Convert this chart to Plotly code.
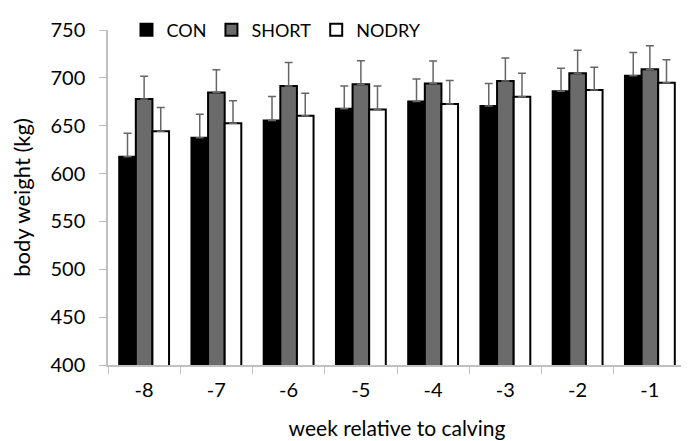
import plotly.graph_objects as go

weeks = ["-8", "-7", "-6", "-5", "-4", "-3", "-2", "-1"]
con = [617.5, 637.5, 655.5, 667.8, 675.4, 670.7, 686.0, 702.3]
con_se = [24.5, 24.5, 25.0, 23.6, 23.5, 23.5, 24.1, 24.2]
short = [677.9, 684.6, 691.4, 693.3, 694.0, 696.8, 704.7, 709.1]
short_se = [23.7, 23.9, 24.6, 24.5, 23.7, 24.0, 24.2, 24.5]
nodry = [644.2, 652.6, 660.4, 666.9, 672.7, 680.2, 687.4, 694.8]
nodry_se = [24.7, 23.4, 23.6, 24.5, 24.5, 24.5, 23.8, 24.2]

FONT = "Lato, 'Open Sans', sans-serif"
err_color = "#666666"

fig = go.Figure()
series = [
    ("CON", con, con_se, "#000000"),
    ("SHORT", short, short_se, "#6b6b6b"),
    ("NODRY", nodry, nodry_se, "#ffffff"),
]
for name, vals, se, col in series:
    fig.add_trace(go.Bar(
        name=name, x=weeks, y=vals,
        marker=dict(color=col, line=dict(color="#000000", width=2)),
        error_y=dict(type="data", array=se, symmetric=False, arrayminus=[0] * len(se),
                     color=err_color, thickness=1.5, width=4, visible=True),
    ))

# page body has an 8px default margin, so the figure is sized/offset to compensate
fig.update_layout(
    width=681, height=433,
    margin=dict(l=100, r=3, t=14, b=76),
    paper_bgcolor="white", plot_bgcolor="white",
    barmode="group", bargap=0.31, bargroupgap=0.0,
    font=dict(family=FONT, size=18, color="#000000"),
    legend=dict(orientation="h", x=0.032, y=1.0, xanchor="left", yanchor="middle",
                font=dict(size=18), bgcolor="rgba(0,0,0,0)", itemwidth=30,
                tracegroupgap=0),
    xaxis=dict(
        title=dict(text="week relative to calving", font=dict(size=21), standoff=22),
        showline=True, linecolor="#c0c0c0", linewidth=1.5,
        ticks="outside", tickson="boundaries", ticklen=7, tickcolor="#c0c0c0",
        tickfont=dict(size=20), showgrid=False, ticklabelstandoff=6,
    ),
    yaxis=dict(
        title=dict(text="body weight (kg)", font=dict(size=22), standoff=14),
        range=[400, 750], dtick=50, tick0=400,
        showline=True, linecolor="#c0c0c0", linewidth=1.5,
        ticks="outside", ticklen=7, tickcolor="#c0c0c0",
        tickfont=dict(size=20), showgrid=False, zeroline=False,
        ticklabelstandoff=10,
    ),
)

fig.write_html("out.html")
